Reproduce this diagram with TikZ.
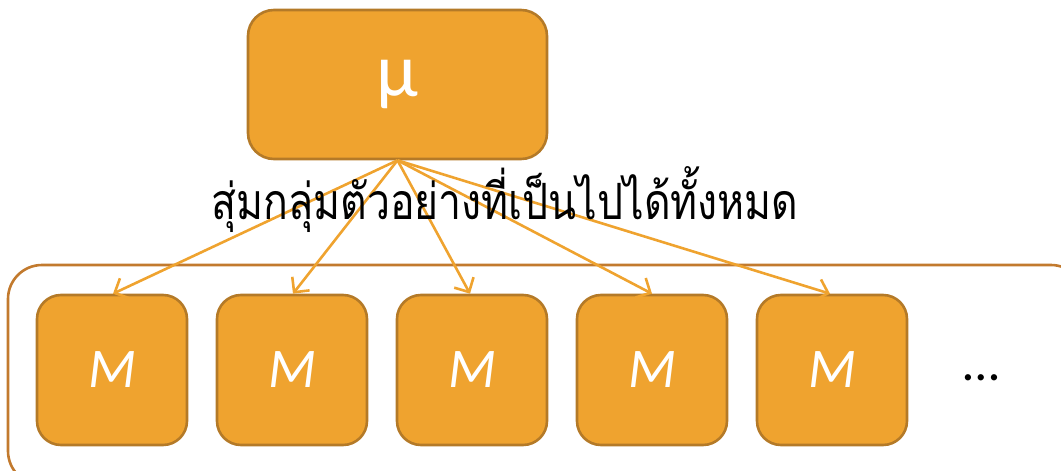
\documentclass[tikz,border=0pt]{standalone}
\usepackage{fontspec}
\setmainfont{Carlito}
\newfontfamily\thaifont[Script=Thai]{Loma}
\usetikzlibrary{arrows.meta}
\definecolor{boxfill}{HTML}{EFA32F}
\definecolor{boxline}{HTML}{B47A28}
\definecolor{frameline}{HTML}{C27A2E}
\begin{document}
\begin{tikzpicture}[x=1pt,y=-1pt,
  mbox/.style={draw=boxline, line width=2.6pt, fill=boxfill, rounded corners=24pt, minimum width=150pt, minimum height=150pt, inner sep=0pt, text=white, font=\fontsize{56}{58}\selectfont\itshape},
  topbox/.style={draw=boxline, line width=2.6pt, fill=boxfill, rounded corners=26pt, minimum width=299pt, minimum height=149pt, inner sep=0pt, text=white, font=\fontsize{76}{78}\selectfont},
  link/.style={draw=boxfill, line width=2.6pt, -{Straight Barb[length=11pt,width=22pt,line width=2.6pt]}},
  frame/.style={draw=frameline, line width=2.6pt, rounded corners=34pt}
]
\useasboundingbox (0,0) rectangle (1061,471);
\draw[frame] (8,265) rectangle (1085,485);
\node[topbox] (mu) at (397.5,84.5) {μ};
\foreach \i/\x in {1/112,2/292,3/472,4/652,5/832}{
  \node[mbox] (m\i) at (\x,370) {M};
}
\node[font=\fontsize{52}{52}\selectfont, anchor=base] (dots) at (981,380) {…};
\foreach \i/\dx in {1/1,2/1,3/-2,4/0,5/-2}{
  \draw[link] (mu.south) -- ([xshift=\dx pt]m\i.north);
}
\node[font=\thaifont\fontsize{50}{56}\selectfont, xscale=0.82] (lbl) at (505,200) {สุ่มกลุ่มตัวอย่างที่เป็นไปได้ทั้งหมด};
\end{tikzpicture}
\end{document}
